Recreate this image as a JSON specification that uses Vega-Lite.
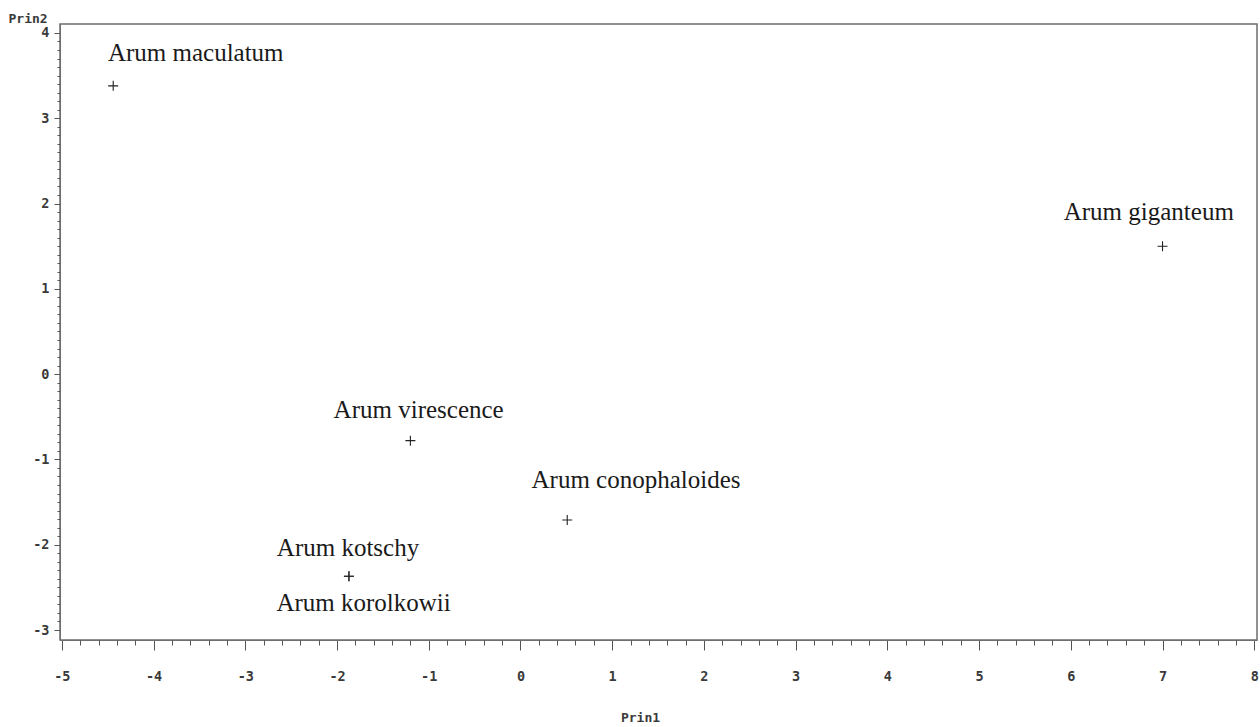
{
  "$schema": "https://vega.github.io/schema/vega-lite/v6.json",
  "width": 1197,
  "height": 616,
  "autosize": {"type": "none"},
  "padding": {"left": 60, "top": 24, "right": 3, "bottom": 87},
  "background": "white",
  "config": {
    "view": {"stroke": "#6e6e6e", "strokeWidth": 1.5},
    "axis": {"labelFont": "DejaVu Sans Mono", "labelFontSize": 13.5, "labelFontWeight": "bold", "labelColor": "#3a3a3a", "titleFont": "DejaVu Sans Mono", "titleFontSize": 13, "titleFontWeight": "bold", "titleColor": "#3a3a3a", "tickColor": "#555", "domainColor": "#6e6e6e", "grid": false}
  },
  "data": {
    "values": [
      {"species": "Arum maculatum", "prin1": -4.44, "prin2": 3.38, "label_x": -3.54, "label_y": 3.77},
      {"species": "Arum giganteum", "prin1": 7.0, "prin2": 1.5, "label_x": 6.85, "label_y": 1.9},
      {"species": "Arum virescence", "prin1": -1.2, "prin2": -0.78, "label_x": -1.11, "label_y": -0.42},
      {"species": "Arum conophaloides", "prin1": 0.51, "prin2": -1.71, "label_x": 1.26, "label_y": -1.24},
      {"species": "Arum kotschy", "prin1": -1.87, "prin2": -2.37, "label_x": -1.88, "label_y": -2.04},
      {"species": "Arum korolkowii", "prin1": -1.87, "prin2": -2.37, "label_x": -1.71, "label_y": -2.68}
    ]
  },
  "layer": [
    {
      "mark": {"type": "point", "shape": "M-1,0H1M0,-1V1", "filled": false, "size": 100, "strokeWidth": 1.1, "color": "#222", "opacity": 1},
      "encoding": {
        "x": {"field": "prin1", "type": "quantitative", "scale": {"domain": [-5.02, 8.03], "nice": false, "zero": false},
          "axis": {"orient": "bottom", "values": [-5, -4, -3, -2, -1, 0, 1, 2, 3, 4, 5, 6, 7, 8], "labelExpr": "replace(datum.label, '\u2212', '-')", "tickSize": 10, "labelPadding": 19, "domain": true, "title": "Prin1", "titleX": 580, "titleY": 77, "titleBaseline": "middle", "titleAlign": "center"}},
        "y": {"field": "prin2", "type": "quantitative", "scale": {"domain": [-3.117, 4.105], "nice": false, "zero": false},
          "axis": {"orient": "left", "values": [-3, -2, -1, 0, 1, 2, 3, 4], "labelExpr": "replace(datum.label, '\u2212', '-')", "tickSize": 6, "labelPadding": 5, "domain": true, "title": "Prin2", "titleAngle": 0, "titleX": -52, "titleY": -6, "titleAlign": "left", "titleBaseline": "middle"}}
      }
    },
    {
      "mark": {"type": "text", "font": "Liberation Serif", "fontSize": 25, "align": "center", "baseline": "middle", "color": "#1a1a1a"},
      "encoding": {
        "x": {"field": "label_x", "type": "quantitative", "scale": {"domain": [-5.02, 8.03], "nice": false, "zero": false}, "axis": null},
        "y": {"field": "label_y", "type": "quantitative", "scale": {"domain": [-3.117, 4.105], "nice": false, "zero": false}, "axis": null},
        "text": {"field": "species"}
      }
    },
    {
      "mark": {"type": "point", "opacity": 0},
      "encoding": {
        "x": {"field": "prin1", "type": "quantitative", "scale": {"domain": [-5.02, 8.03], "nice": false, "zero": false},
          "axis": {"orient": "bottom", "values": [-4.8, -4.6, -4.4, -4.2, -3.8, -3.6, -3.4, -3.2, -2.8, -2.6, -2.4, -2.2, -1.8, -1.6, -1.4, -1.2, -0.8, -0.6, -0.4, -0.2, 0.2, 0.4, 0.6, 0.8, 1.2, 1.4, 1.6, 1.8, 2.2, 2.4, 2.6, 2.8, 3.2, 3.4, 3.6, 3.8, 4.2, 4.4, 4.6, 4.8, 5.2, 5.4, 5.6, 5.8, 6.2, 6.4, 6.6, 6.8, 7.2, 7.4, 7.6, 7.8], "tickSize": 5, "labels": false, "domain": false, "title": null}},
        "y": {"field": "prin2", "type": "quantitative", "scale": {"domain": [-3.117, 4.105], "nice": false, "zero": false},
          "axis": {"orient": "left", "values": [-2.9, -2.8, -2.7, -2.6, -2.5, -2.4, -2.3, -2.2, -2.1, -1.9, -1.8, -1.7, -1.6, -1.5, -1.4, -1.3, -1.2, -1.1, -0.9, -0.8, -0.7, -0.6, -0.5, -0.4, -0.3, -0.2, -0.1, 0.1, 0.2, 0.3, 0.4, 0.5, 0.6, 0.7, 0.8, 0.9, 1.1, 1.2, 1.3, 1.4, 1.5, 1.6, 1.7, 1.8, 1.9, 2.1, 2.2, 2.3, 2.4, 2.5, 2.6, 2.7, 2.8, 2.9, 3.1, 3.2, 3.3, 3.4, 3.5, 3.6, 3.7, 3.8, 3.9], "tickSize": 3, "labels": false, "domain": false, "title": null}}
      }
    }
  ],
  "resolve": {"axis": {"x": "independent", "y": "independent"}}
}
